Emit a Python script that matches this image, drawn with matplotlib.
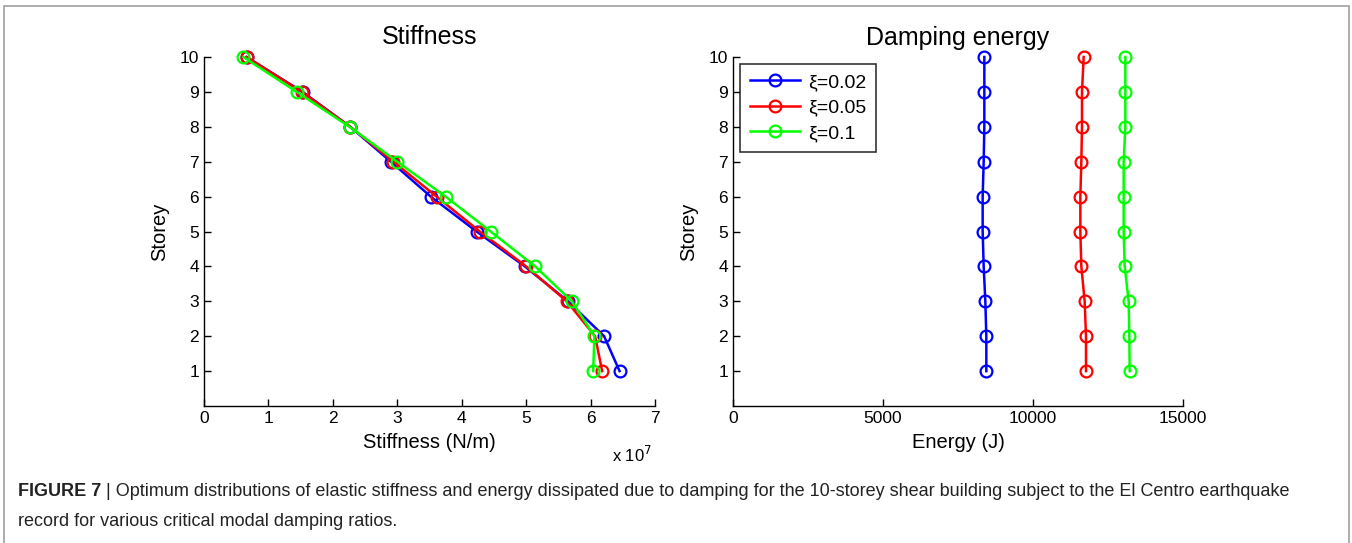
import numpy as np
import matplotlib.pyplot as plt
from matplotlib.patches import Rectangle

plt.rcParams['font.family'] = ['Liberation Sans', 'DejaVu Sans']

storey = [1, 2, 3, 4, 5, 6, 7, 8, 9, 10]
labels = ['\u03be=0.02', '\u03be=0.05', '\u03be=0.1']
colors = ['#0000ff', '#ff0000', '#00ff00']

stiff_002 = np.array([6.45, 6.21, 5.65, 4.98, 4.23, 3.52, 2.90, 2.27, 1.53, 0.66]) * 1e7
stiff_005 = np.array([6.18, 6.07, 5.63, 5.00, 4.28, 3.61, 2.94, 2.27, 1.52, 0.66]) * 1e7
stiff_01 = np.array([6.04, 6.06, 5.71, 5.14, 4.45, 3.75, 3.00, 2.26, 1.44, 0.61]) * 1e7

# damping energy in J
energy_002 = [8444, 8444, 8411, 8356, 8322, 8322, 8356, 8378, 8378, 8378]
energy_005 = [11767, 11767, 11722, 11611, 11578, 11578, 11611, 11633, 11633, 11689]
energy_01 = [13222, 13211, 13189, 13056, 13022, 13022, 13022, 13078, 13078, 13078]

fig = plt.figure(figsize=(13.52, 5.43), dpi=100)

# grey frame around the figure
fig.patches.append(Rectangle((4 / 1352, -0.02), 1345 / 1352, 1.0 - 6 / 543 + 0.02,
                             transform=fig.transFigure, fill=False,
                             edgecolor='#a0a0a0', linewidth=1.2))

ax1 = fig.add_axes([204 / 1352, 1 - 406 / 543, 451 / 1352, 349 / 543])
ax2 = fig.add_axes([733 / 1352, 1 - 406 / 543, 450 / 1352, 349 / 543])

for vals, c, lab in zip([stiff_002, stiff_005, stiff_01], colors, labels):
    ax1.plot(vals, storey, '-o', color=c, mfc='none', mec=c, ms=8.5, mew=1.6, lw=1.8,
             label=lab, clip_on=False)

for vals, c, lab in zip([energy_002, energy_005, energy_01], colors, labels):
    ax2.plot(vals, storey, '-o', color=c, mfc='none', mec=c, ms=8.5, mew=1.6, lw=1.8,
             label=lab, clip_on=False)

ax1.set_xlim(0, 7e7)
ax1.set_xticks(np.arange(0, 8) * 1e7)
ax1.set_xticklabels([str(i) for i in range(8)])
ax1.text(0.905, -0.14, r'x 10$^7$', transform=ax1.transAxes, fontsize=12,
         ha='left', va='center')
ax1.set_xlabel('Stiffness (N/m)', fontsize=14.5, labelpad=5)
ax1.set_title('Stiffness', fontsize=18, pad=9)

ax2.set_xlim(0, 15000)
ax2.set_xticks([0, 5000, 10000, 15000])
ax2.set_xlabel('Energy (J)', fontsize=14.5, labelpad=5)
ax2.set_title('Damping energy', fontsize=18, pad=9)
ax2.legend(loc='upper left', fontsize=14, frameon=True, fancybox=False,
           edgecolor='black', borderaxespad=0.35, handlelength=2.6,
           labelspacing=0.4, borderpad=0.5, handletextpad=0.4)
ax2.get_legend().get_frame().set_linewidth(1.2)

for ax in (ax1, ax2):
    ax.set_ylim(0, 10)
    ax.set_yticks(storey)
    ax.set_ylabel('Storey', fontsize=14.5, labelpad=8)
    ax.spines['top'].set_visible(False)
    ax.spines['right'].set_visible(False)
    ax.tick_params(direction='in', length=5, labelsize=12.5, width=1)
    for s in ('left', 'bottom'):
        ax.spines[s].set_linewidth(1)

# caption
cap_ax = fig.add_axes([0, 0, 1, 1])
cap_ax.set_axis_off()
t = cap_ax.text(18 / 1352, 1 - 492 / 543, 'FIGURE 7', fontsize=13, fontweight='bold',
                color='#222222', va='center', ha='left')
cap_ax.annotate(' | Optimum distributions of elastic stiffness and energy dissipated due to damping '
                'for the 10-storey shear building subject to the El Centro earthquake',
                xy=(1, 0.5), xycoords=t, va='center', ha='left', fontsize=13, color='#222222')
cap_ax.text(18 / 1352, 1 - 522 / 543, 'record for various critical modal damping ratios.',
            fontsize=13, color='#222222', va='center', ha='left')

fig.savefig('out.png', dpi=100)
